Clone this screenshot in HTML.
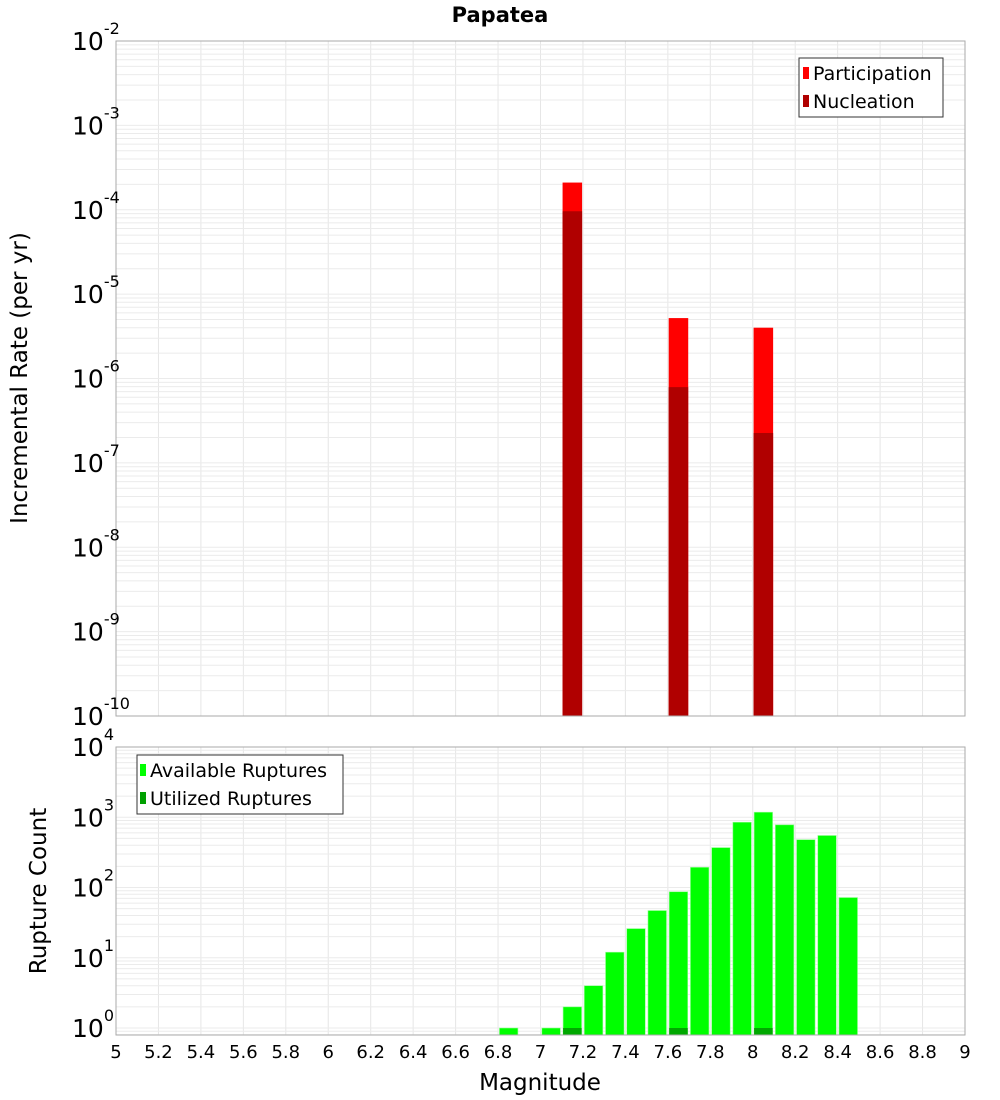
<!DOCTYPE html>
<html><head><meta charset="utf-8"><style>
html,body{margin:0;padding:0;background:#fff;}
svg{display:block;font-family:"Liberation Sans","DejaVu Sans",sans-serif;}
</style></head><body>
<svg id="chart" width="1000" height="1100" viewBox="0 0 1000 1100" xmlns="http://www.w3.org/2000/svg">
<text x="500" y="22" text-anchor="middle" font-size="21" font-weight="bold" font-family="DejaVu Sans, sans-serif">Papatea</text>
<g id="topPlot"></g>
<g id="botPlot"></g>
<text transform="translate(27,378) rotate(-90)" text-anchor="middle" font-size="23" font-family="DejaVu Sans, sans-serif">Incremental Rate (per yr)</text>
<text transform="translate(46,891) rotate(-90)" text-anchor="middle" font-size="23" font-family="DejaVu Sans, sans-serif">Rupture Count</text>
<text x="540" y="1090" text-anchor="middle" font-size="23" font-family="DejaVu Sans, sans-serif">Magnitude</text>
</svg>
<script>
const rateMags = [7.15, 7.65, 8.05];
const participation = [2.1e-4, 5.2e-6, 4.0e-6];
const nucleation = [9.6e-5, 7.9e-7, 2.26e-7];
const countMags = [6.85, 7.05, 7.15, 7.25, 7.35, 7.45, 7.55, 7.65, 7.75, 7.85, 7.95, 8.05, 8.15, 8.25, 8.35, 8.45];
const available = [1, 1, 2, 4, 12, 26, 47, 87, 194, 370, 850, 1180, 780, 480, 550, 72];
const utilizedMags = [7.15, 7.65, 8.05];
const utilized = [1, 1, 1];
const xTicks = [5,5.2,5.4,5.6,5.8,6,6.2,6.4,6.6,6.8,7,7.2,7.4,7.6,7.8,8,8.2,8.4,8.6,8.8,9];
const xTickLabels = ["5","5.2","5.4","5.6","5.8","6","6.2","6.4","6.6","6.8","7","7.2","7.4","7.6","7.8","8","8.2","8.4","8.6","8.8","9"];
const topExps = [-2,-3,-4,-5,-6,-7,-8,-9,-10];
const botExps = [4,3,2,1,0];

const NS="http://www.w3.org/2000/svg";
const X0=116, X1=965;
function x(m){return X0+(m-5)/4*(X1-X0);}
const T0=41, T1=716;
function yTop(v){return T0+(-2-Math.log10(v))*(T1-T0)/8;}
const B0=747, B1=1035, BDEC=70.25;
function yBot(v){return 1028-Math.log10(v)*BDEC;}
function mk(parent,tag,attrs){const e=document.createElementNS(NS,tag);for(const k in attrs)e.setAttribute(k,attrs[k]);parent.appendChild(e);return e;}

function grid(g,y0,y1,decPos,minExps,maxExps){
  for(const t of xTicks){const l=mk(g,'line',{x1:x(t),x2:x(t),y1:y0,y2:y1,stroke:'#e6e6e6','stroke-width':1});
    
    }
  for(let e=minExps;e<=maxExps;e++){for(let k=1;k<10;k++){const yy=decPos(k*Math.pow(10,e));if(yy<y0||yy>y1)continue;
    const l=mk(g,'line',{x1:X0,x2:X1,y1:yy,y2:yy,stroke:'#ebebeb','stroke-width':1});
    
    }}
}
const topG=document.getElementById('topPlot');
grid(topG,T0,T1,yTop,-11,-2);
const bw=(X1-X0)/40*0.92;
rateMags.forEach((m,i)=>{
  const p=mk(topG,'rect',{x:x(m)-bw/2,y:yTop(participation[i]),width:bw,height:T1-yTop(participation[i]),fill:'#ff0000'});
  
  
  const n=mk(topG,'rect',{x:x(m)-bw/2,y:yTop(nucleation[i]),width:bw,height:T1-yTop(nucleation[i]),fill:'#b00000'});
  
  
});
const tf=mk(topG,'rect',{x:X0,y:T0,width:X1-X0,height:T1-T0,fill:'none',stroke:'#aaa'});


topExps.forEach(e=>{const yy=yTop(Math.pow(10,e));
  const t=mk(topG,'text',{x:72,y:yy+9,'font-size':25,'font-family':'DejaVu Sans, sans-serif'});
  
  
  t.textContent='10';
  const s=mk(t,'tspan',{dy:-16,'font-size':16});s.textContent=String(e);});
const tl=mk(topG,'g',{});


mk(tl,'rect',{x:799,y:58,width:144,height:59,fill:'#fff',stroke:'#333'});
mk(tl,'rect',{x:803,y:67,width:6,height:12,fill:'#ff0000'});
mk(tl,'rect',{x:803,y:95,width:6,height:12,fill:'#b00000'});
const t1=mk(tl,'text',{x:813,y:80,'font-size':19,'font-family':'DejaVu Sans, sans-serif'});t1.textContent='Participation';
const t2=mk(tl,'text',{x:813,y:108,'font-size':19,'font-family':'DejaVu Sans, sans-serif'});t2.textContent='Nucleation';

const botG=document.getElementById('botPlot');
grid(botG,B0,B1,yBot,-1,4);
countMags.forEach((m,i)=>{
  const r=mk(botG,'rect',{x:x(m)-bw/2+0.5,y:yBot(available[i]),width:bw-1,height:B1-yBot(available[i]),fill:'#00ff00',stroke:'#9f9','stroke-width':0.6});
  
  
});
utilizedMags.forEach((m,i)=>{
  const r=mk(botG,'rect',{x:x(m)-bw/2+0.5,y:yBot(utilized[i]),width:bw-1,height:B1-yBot(utilized[i]),fill:'#00a800'});
  
  
});
const bf=mk(botG,'rect',{x:X0,y:B0,width:X1-X0,height:B1-B0,fill:'none',stroke:'#aaa'});


botExps.forEach(e=>{const yy=yBot(Math.pow(10,e));
  const t=mk(botG,'text',{x:72,y:yy+9,'font-size':25,'font-family':'DejaVu Sans, sans-serif'});
  
  
  t.textContent='10';
  const s=mk(t,'tspan',{dy:-16,'font-size':16});s.textContent=String(e);});
xTicks.forEach((m,i)=>{
  const t=mk(botG,'text',{x:x(m),y:1058,'text-anchor':'middle','font-size':18,'font-family':'DejaVu Sans, sans-serif'});
  
  
  t.textContent=xTickLabels[i];});
const bl=mk(botG,'g',{});


mk(bl,'rect',{x:137,y:755,width:206,height:59,fill:'#fff',stroke:'#333'});
mk(bl,'rect',{x:140,y:764,width:6,height:12,fill:'#00ff00'});
mk(bl,'rect',{x:140,y:792,width:6,height:12,fill:'#00a000'});
const t3=mk(bl,'text',{x:150,y:777,'font-size':19,'font-family':'DejaVu Sans, sans-serif'});t3.textContent='Available Ruptures';
const t4=mk(bl,'text',{x:150,y:805,'font-size':19,'font-family':'DejaVu Sans, sans-serif'});t4.textContent='Utilized Ruptures';
</script>
</body></html>
